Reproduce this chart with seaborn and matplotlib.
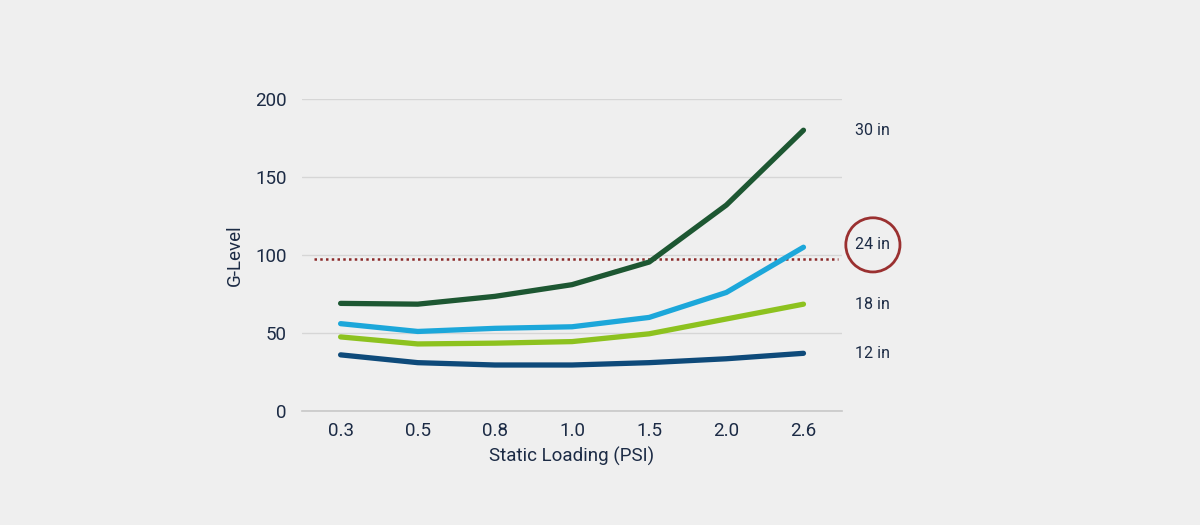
import pandas as pd
import matplotlib.pyplot as plt
import seaborn as sns

# Data
loading = ['0.3', '0.5', '0.8', '1.0', '1.5', '2.0', '2.6']
g_12in = [36, 31, 29.5, 29.5, 31, 33.5, 37]
g_18in = [47.5, 43, 43.5, 44.5, 49.5, 59, 68.5]
g_24in = [56, 51, 53, 54, 60, 76, 105]
g_30in = [69, 68.5, 73.5, 81, 95.5, 132, 180]
limit_g = 97.5

series = ['12 in', '18 in', '24 in', '30 in']
colors = {'12 in': '#0e4a7a', '18 in': '#8dc21f', '24 in': '#1ca7da', '30 in': '#1d5732'}

bg = '#efefef'
text_color = '#1c2b45'

sns.set_theme(style='white')
plt.rcParams['font.family'] = ['Roboto', 'DejaVu Sans']

rows = []
for name, vals in zip(series, [g_12in, g_18in, g_24in, g_30in]):
    for i, v in enumerate(vals):
        rows.append({'pos': i, 'loading': loading[i], 'g': v, 'size': name})
df = pd.DataFrame(rows)

fig = plt.figure(figsize=(12, 5.25), dpi=100, facecolor=bg)
ax = fig.add_axes([0.2517, 0.2171, 0.45, 0.5943])
ax.set_facecolor(bg)

# dotted limit line
ax.plot([-0.35, 6.45], [limit_g, limit_g], color='#8c2b2b', lw=1.8,
        linestyle=(0, (1, 1.3)), zorder=2)

sns.lineplot(data=df, x='pos', y='g', hue='size', palette=colors,
             linewidth=3.8, legend=False, ax=ax, zorder=3)
for line in ax.lines:
    line.set_solid_capstyle('round')
    line.set_solid_joinstyle('round')

ax.set_xlim(-0.5, 6.5)
ax.set_ylim(0, 200)
ax.set_xticks(range(len(loading)))
ax.set_xticklabels(loading)
ax.set_yticks([0, 50, 100, 150, 200])
ax.yaxis.grid(True, color='#d6d6d6', lw=1)
ax.xaxis.grid(False)
for s in ['top', 'right', 'left']:
    ax.spines[s].set_visible(False)
ax.spines['bottom'].set_color('#c8c8c8')
ax.spines['bottom'].set_linewidth(1.2)
ax.tick_params(axis='both', length=0, labelsize=13.5, labelcolor=text_color)
ax.tick_params(axis='y', pad=11)
ax.tick_params(axis='x', pad=8)
ax.set_xlabel('Static Loading (PSI)', fontsize=13.5, color=text_color, labelpad=5)
ax.set_ylabel('G-Level', fontsize=13.5, color=text_color, labelpad=8)

# end labels
for name, vals in zip(series, [g_12in, g_18in, g_24in, g_30in]):
    y = vals[-1]
    if name == '24 in':
        ax.text(6.9, y + 1.5, name, fontsize=11.5, color=text_color,
                ha='center', va='center', clip_on=False,
                bbox=dict(boxstyle='circle,pad=0.6', fc='none',
                          ec='#9a3030', lw=2))
    else:
        ax.text(6.67, y, name, fontsize=11.5, color=text_color,
                ha='left', va='center', clip_on=False)

fig.savefig('out.png', dpi=100, facecolor=bg)
